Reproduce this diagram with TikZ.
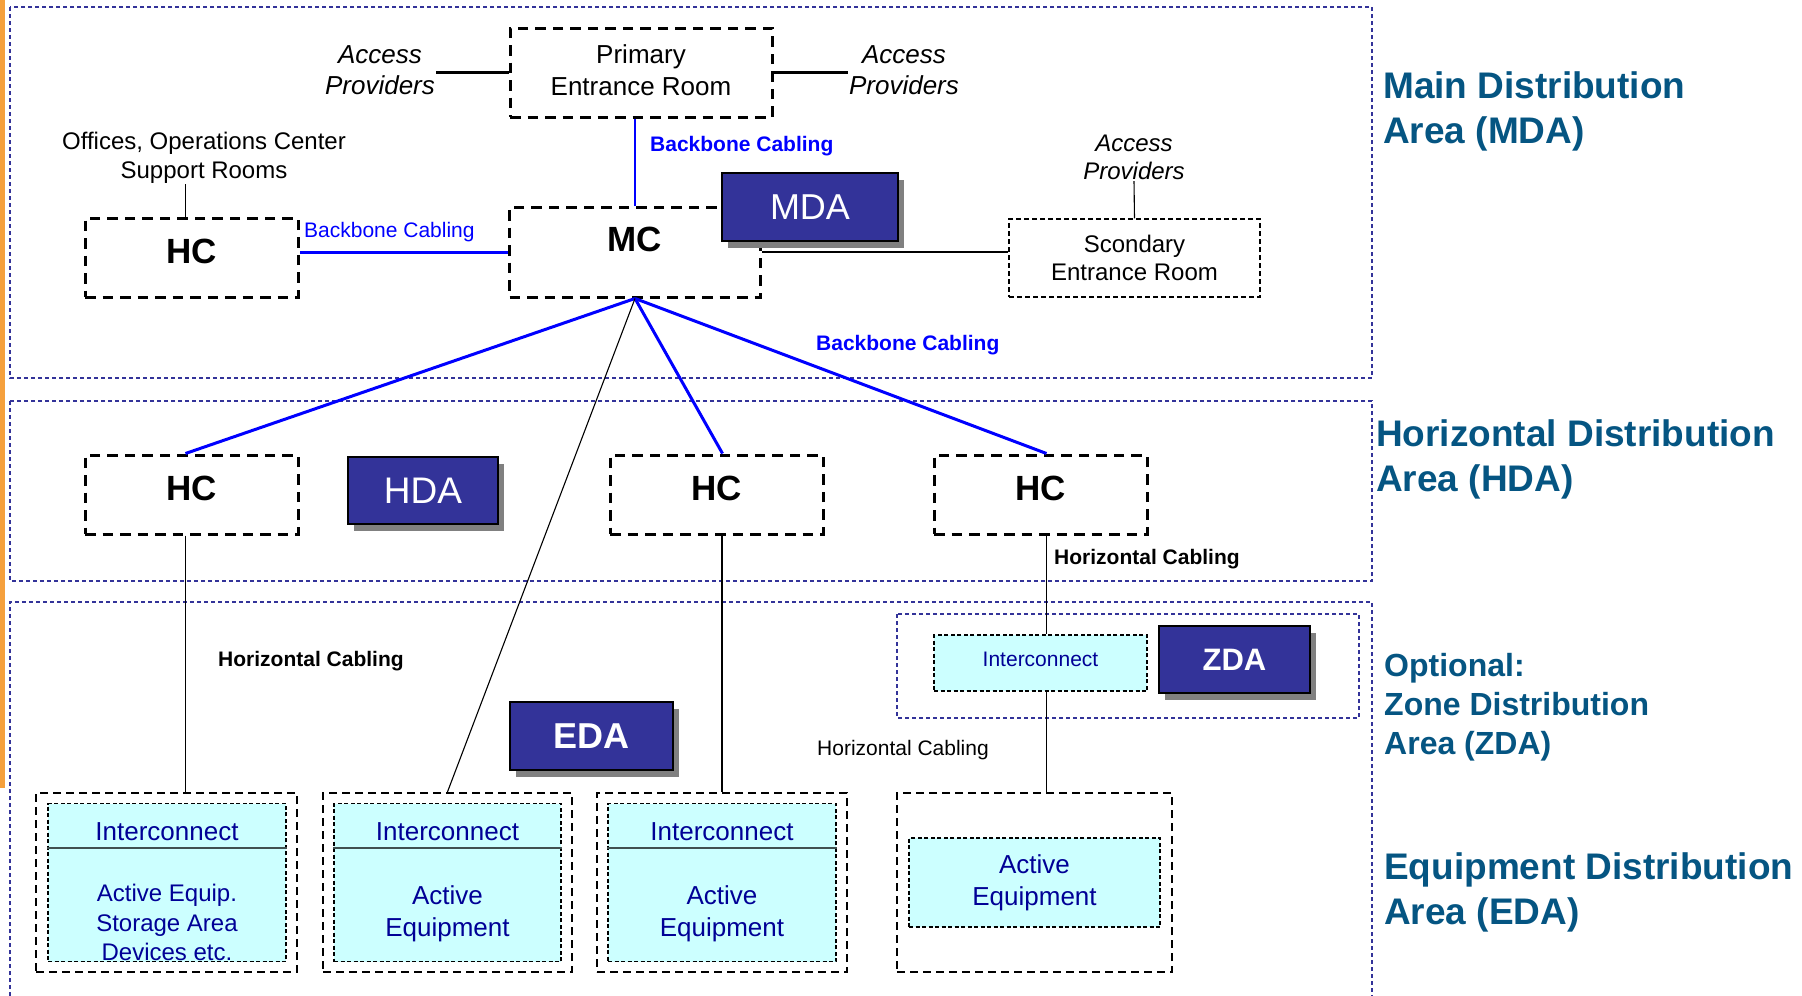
\documentclass[tikz,border=0pt]{standalone}
\usepackage{fontspec}
\setmainfont{Liberation Sans}
\usetikzlibrary{shadows}
\definecolor{areablue}{RGB}{51,51,153}
\definecolor{titleblue}{RGB}{5,85,130}
\definecolor{cablue}{RGB}{0,0,255}
\definecolor{badgeblue}{RGB}{51,51,153}
\definecolor{shadowgray}{RGB}{128,128,128}
\definecolor{icyan}{RGB}{204,255,255}
\definecolor{navytext}{RGB}{0,0,150}
\definecolor{slidebar}{RGB}{245,160,60}
\definecolor{divgray}{RGB}{64,80,80}

\begin{document}
\begin{tikzpicture}[x=1pt,y=-1pt,
    area/.style={draw=areablue, line width=1.3pt, dash pattern=on 4pt off 3pt},
    room/.style={draw, line width=3pt, dash pattern=on 10.5pt off 7pt, inner sep=0pt, align=center},
    thinroom/.style={draw, line width=1.3pt, dash pattern=on 5pt off 3pt, inner sep=0pt, align=center},
    eqbox/.style={draw, line width=2.3pt, dash pattern=on 8pt off 5pt, inner sep=0pt},
    eqinner/.style={draw, fill=icyan, line width=1.2pt, dash pattern=on 4pt off 2.5pt, inner sep=0pt, text=navytext, align=center},
    badge/.style={draw=black, line width=1.5pt, fill=badgeblue, text=white, inner sep=0pt,
      drop shadow={shadow xshift=6pt, shadow yshift=-7pt, fill=shadowgray, opacity=1}},
    title/.style={anchor=west, align=left, text=titleblue, inner sep=0pt, font=\bfseries\fontsize{37}{45}\selectfont},
    lab/.style={inner sep=1pt, align=center, font=\fontsize{24}{29}\selectfont},
    cablab/.style={anchor=west, inner sep=0pt, font=\fontsize{21}{25}\selectfont},
    bbline/.style={draw=cablue, line width=3pt},
    wire/.style={draw, line width=1.1pt}
  ]
  \useasboundingbox (0,0) rectangle (1802,996);
  \fill[slidebar] (0,0) rectangle (5,788);

  % areas
  \draw[area] (10,7) rectangle (1372,378);
  \draw[area] (10,401) rectangle (1372,581);
  \draw[area] (10,996) -- (10,602) -- (1372,602) -- (1372,996);
  \draw[area] (897,614) rectangle (1359,718);

  \node[title] (tmda) at (1383,111.5) {Main Distribution\\Area (MDA)};
  \node[title] (thda) at (1376,459.5) {Horizontal Distribution\\Area (HDA)};
  \node[title, font=\bfseries\fontsize{32}{39}\selectfont] (tzda) at (1384,707) {Optional:\\Zone Distribution\\Area (ZDA)};
  \node[title] (teda) at (1384,892.5) {Equipment Distribution\\Area (EDA)};

  % main distribution area
  \node[room, minimum width=262, minimum height=89, text depth=5pt, font=\fontsize{26}{32}\selectfont] (primary) at (641,72.5) {Primary\\Entrance Room};
  \node[lab, font=\itshape\fontsize{26}{31}\selectfont] (accL) at (380,70.5) {Access\\Providers};
  \node[lab, font=\itshape\fontsize{26}{31}\selectfont] (accR) at (904,70.5) {Access\\Providers};
  \node[room, minimum width=251, minimum height=90, text depth=26pt, font=\bfseries\fontsize{35}{40}\selectfont] (mc) at (635,252) {MC};
  \node[room, minimum width=213, minimum height=79, text depth=12pt, font=\bfseries\fontsize{35}{40}\selectfont] (hcA) at (191.5,257.5) {HC};
  \node[lab] (offices) at (204,157.5) {Offices, Operations Center\\Support Rooms};
  \node[thinroom, minimum width=251, minimum height=78, font=\fontsize{24}{28}\selectfont] (sec) at (1134.5,258) {Scondary\\Entrance Room};
  \node[lab, font=\itshape\fontsize{24}{28}\selectfont] (accS) at (1134,157.5) {Access\\Providers};
  \node[badge, minimum width=176, minimum height=68, font=\fontsize{36}{40}\selectfont] (mda) at (810,207) {MDA};

  \draw[wire, line width=2.2pt] (accL.east |- primary.west) -- (primary.west);
  \draw[wire, line width=2.2pt] (primary.east) -- (primary.east -| accR.west);
  \draw[wire] ([xshift=-6pt]hcA.north) -- ([xshift=-6pt]hcA.north |- offices.south);
  \draw[wire] (accS.south) -- (sec.north);
  \draw[wire] (mc.east) -- (mc.east -| sec.west);
  \draw[bbline, line width=2.2pt] (mc.north) -- (mc.north |- primary.south);
  \draw[bbline] (mc.west) -- (mc.west -| hcA.east);
  \node[cablab, text=cablue, font=\bfseries\fontsize{21}{25}\selectfont] (bbV) at (650,146) {Backbone Cabling};
  \node[cablab, text=cablue] (bbH) at (304,232) {Backbone Cabling};
  \node[cablab, text=cablue, font=\bfseries\fontsize{21}{25}\selectfont] (bbF) at (816,345) {Backbone Cabling};

  % horizontal distribution area
  \node[room, minimum width=213, minimum height=79, text depth=12pt, font=\bfseries\fontsize{35}{40}\selectfont] (hcB) at (191.5,494.5) {HC};
  \node[room, minimum width=213, minimum height=79, text depth=12pt, font=\bfseries\fontsize{35}{40}\selectfont] (hcC) at (716.5,494.5) {HC};
  \node[room, minimum width=213, minimum height=79, text depth=12pt, font=\bfseries\fontsize{35}{40}\selectfont] (hcD) at (1040.5,494.5) {HC};
  \node[badge, minimum width=150, minimum height=67, font=\fontsize{37}{40}\selectfont] (hda) at (423,490.5) {HDA};

  \draw[bbline] (mc.south) -- ([xshift=-6pt]hcB.north);
  \draw[bbline] (mc.south) -- ([xshift=6pt]hcC.north);
  \draw[bbline] (mc.south) -- ([xshift=6pt]hcD.north);

  % zone distribution area
  \node[eqinner, minimum width=213, minimum height=56, text depth=7pt, font=\fontsize{21}{25}\selectfont] (zic) at (1040.5,663) {Interconnect};
  \node[badge, minimum width=151, minimum height=67, font=\bfseries\fontsize{31}{36}\selectfont] (zda) at (1234.5,659.5) {ZDA};

  % equipment distribution area
  \node[badge, minimum width=163, minimum height=68, font=\bfseries\fontsize{36}{40}\selectfont] (eda) at (591.5,736) {EDA};

  \node[eqbox, minimum width=261, minimum height=179] (box1) at (166.5,882.5) {};
  \node[eqinner, minimum width=238, minimum height=158] (in1) at (167,882.5) {};
  \node[eqbox, minimum width=249, minimum height=179] (box2) at (447.5,882.5) {};
  \node[eqinner, minimum width=227, minimum height=158] (in2) at (447.5,882.5) {};
  \node[eqbox, minimum width=250, minimum height=179] (box3) at (722,882.5) {};
  \node[eqinner, minimum width=228, minimum height=158] (in3) at (722,882.5) {};
  \node[eqbox, minimum width=275, minimum height=179] (box4) at (1034.5,882.5) {};
  \node[eqinner, minimum width=251, minimum height=89, font=\fontsize{26}{32}\selectfont] (in4) at (1034.5,882.5) {Active\\Equipment};

  \draw[divgray, line width=2pt] ([yshift=-45pt]in1.north west) -- ([yshift=-45pt]in1.north east);
  \draw[divgray, line width=2pt] ([yshift=-45pt]in2.north west) -- ([yshift=-45pt]in2.north east);
  \draw[divgray, line width=2pt] ([yshift=-45pt]in3.north west) -- ([yshift=-45pt]in3.north east);

  \node[lab, text=navytext, font=\fontsize{26}{31}\selectfont] (ic1) at (167,832) {Interconnect};
  \node[lab, text=navytext, font=\fontsize{26}{31}\selectfont] (ic2) at (447.5,832) {Interconnect};
  \node[lab, text=navytext, font=\fontsize{26}{31}\selectfont] (ic3) at (722,832) {Interconnect};
  \node[lab, text=navytext, font=\fontsize{24}{29.5}\selectfont] (ae1) at (167,922.5) {Active Equip.\\Storage Area\\Devices etc.};
  \node[lab, text=navytext, font=\fontsize{26}{32}\selectfont] (ae2) at (447.5,914) {Active\\Equipment};
  \node[lab, text=navytext, font=\fontsize{26}{32}\selectfont] (ae3) at (722,914) {Active\\Equipment};

  % horizontal cabling
  \draw[wire] ([xshift=-6pt]hcB.south) -- ([xshift=-6pt]hcB.south |- box1.north);
  \draw[wire] (box3.north) -- (box3.north |- hcC.south);
  \draw[wire] (mc.south) -- (box2.north);
  \draw[wire] ([xshift=6pt]hcD.south) -- ([xshift=6pt]hcD.south |- zic.north);
  \draw[wire] ([xshift=6pt]zic.south) -- ([xshift=6pt]zic.south |- box4.north);
  \node[cablab, font=\bfseries\fontsize{21}{25}\selectfont] (hcabD) at (1054,559) {Horizontal Cabling};
  \node[cablab, font=\bfseries\fontsize{21}{25}\selectfont] (hcabB) at (218,661) {Horizontal Cabling};
  \node[cablab] (hcabZ) at (817,750) {Horizontal Cabling};
\end{tikzpicture}
\end{document}
